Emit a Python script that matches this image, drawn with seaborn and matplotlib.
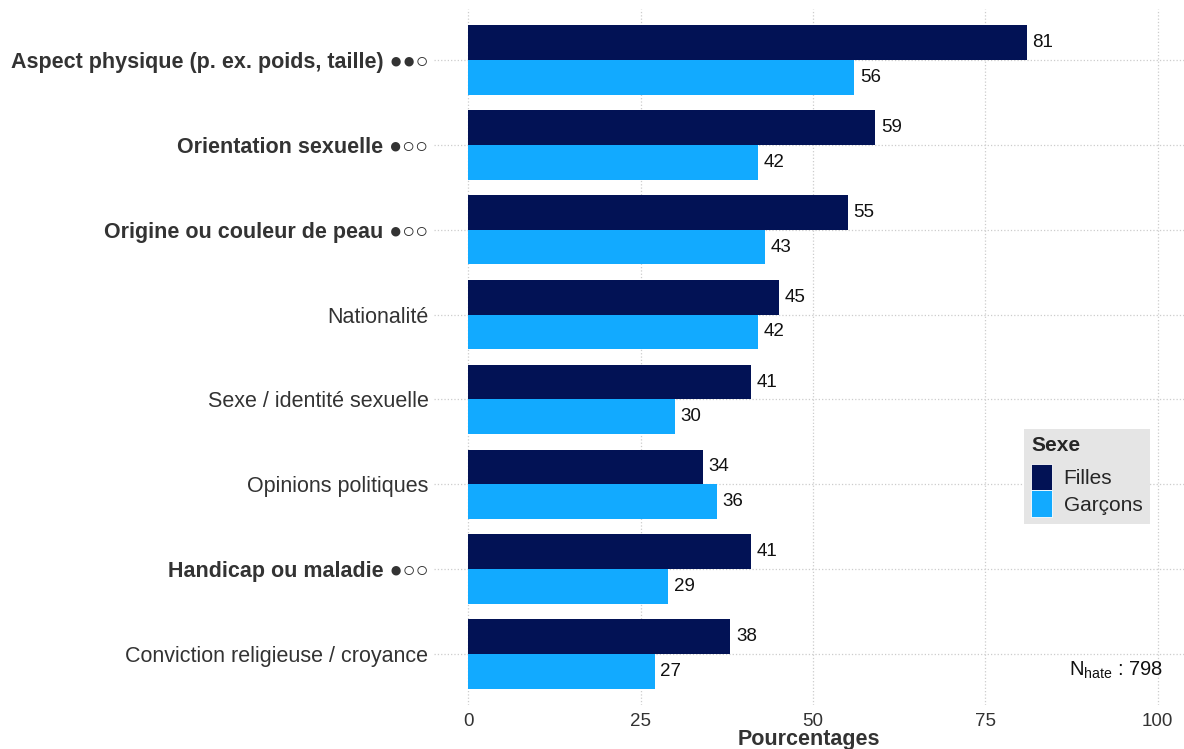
import matplotlib
matplotlib.use("Agg")
import matplotlib.pyplot as plt
import seaborn as sns
import pandas as pd

# Categories (top to bottom) and values in percent
categories = [
    "Aspect physique (p. ex. poids, taille) ●●○",
    "Orientation sexuelle ●○○",
    "Origine ou couleur de peau ●○○",
    "Nationalité",
    "Sexe / identité sexuelle",
    "Opinions politiques",
    "Handicap ou maladie ●○○",
    "Conviction religieuse / croyance",
]
bold_cats = [True, True, True, False, False, False, True, False]
filles = [81, 59, 55, 45, 41, 34, 41, 38]
garcons = [56, 42, 43, 42, 30, 36, 29, 27]
groups = ["Filles", "Garçons"]
colors = ["#021255", "#12AAFF"]

df = pd.DataFrame({
    "cat": categories * 2,
    "val": filles + garcons,
    "Sexe": [groups[0]] * len(categories) + [groups[1]] * len(categories),
})

sns.set_theme(style="white")
plt.rcParams["font.family"] = ["Liberation Sans", "DejaVu Sans"]
plt.rcParams["mathtext.fontset"] = "custom"
plt.rcParams["mathtext.rm"] = "Liberation Sans"

fig = plt.figure(figsize=(11.84, 7.49), dpi=100)
ax = fig.add_axes([434 / 1184, 1 - 705 / 749, 750 / 1184, 696 / 749])

sns.barplot(data=df, y="cat", x="val", hue="Sexe", order=categories,
            hue_order=groups, palette=colors, orient="h", width=0.82,
            gap=0, saturation=1, linewidth=0, ax=ax, legend=True)

# value labels
for cont in ax.containers:
    ax.bar_label(cont, labels=[f"{v:.0f}" for v in cont.datavalues],
                 padding=4, fontsize=13.5, color="#111111")

ax.set_xlim(-5, 103.8)
ax.set_ylim(len(categories) - 0.4, -0.6)
ax.set_xticks([0, 25, 50, 75, 100])
ax.tick_params(axis="x", labelsize=13.5, colors="#333333", pad=6, length=0)
ax.tick_params(axis="y", labelsize=15.5, colors="#333333", pad=4, length=0)
for lab, b in zip(ax.get_yticklabels(), bold_cats):
    if b:
        lab.set_fontweight("bold")

ax.grid(True, axis="both", linestyle=":", color="#cccccc", linewidth=0.9)
ax.set_axisbelow(True)
for s in ax.spines.values():
    s.set_visible(False)

ax.set_ylabel("")
ax.set_xlabel("Pourcentages", fontsize=15.5, fontweight="bold",
              color="#333333", labelpad=-1)

leg = ax.legend(title="Sexe", loc="upper left",
                bbox_to_anchor=(1024 / 1184, 1 - 429 / 749),
                bbox_transform=fig.transFigure, frameon=True,
                facecolor="#e5e5e5", edgecolor="none", fancybox=False,
                fontsize=15, title_fontsize=15, handlelength=1.0,
                handleheight=1.6, labelspacing=0.0, handletextpad=0.55,
                borderpad=0.35, borderaxespad=0, alignment="left")
leg.get_title().set_fontweight("bold")
leg.get_frame().set_alpha(1)
leg._legend_box.sep = 6
for h in leg.legend_handles:
    h.set_edgecolor("white")
    h.set_linewidth(0.6)

fig.text(1163 / 1184, 1 - 670 / 749, r"N$_{\mathrm{hate}}$ : 798",
         ha="right", va="center", fontsize=14.5, color="#111111")

fig.savefig("out.png", dpi=100)
